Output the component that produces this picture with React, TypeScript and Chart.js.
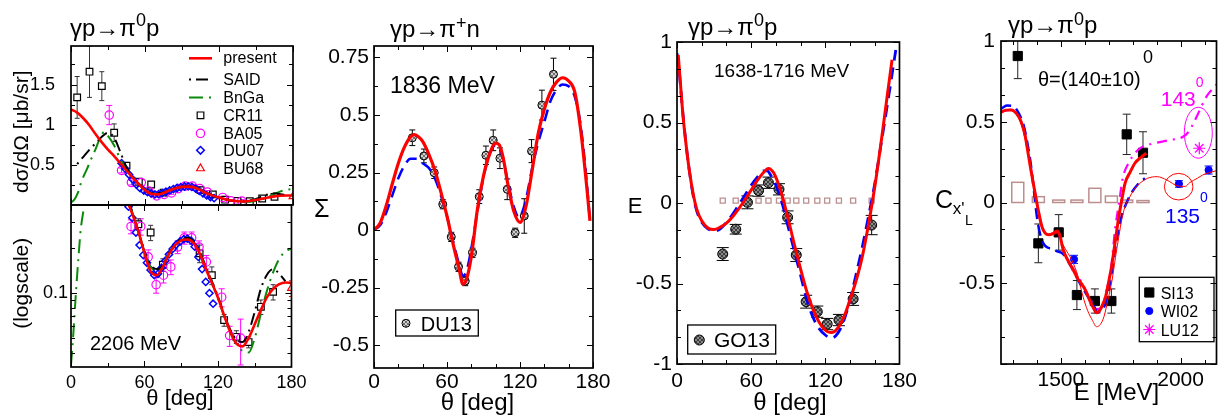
import React, { useEffect, useRef } from 'react';
import { Chart, registerables } from 'chart.js';

Chart.register(...registerables);

const FONT = "'Liberation Sans', Arial, Helvetica, sans-serif";
Chart.defaults.font.family = FONT;
Chart.defaults.color = '#000';
const H = 418;

const RED = '#ff0000';
const BLUE = '#0000ff';
const GREEN = '#0a8a0a';
const MAGENTA = '#ff00ff';
const BROWN = '#bc8f8f';

// ================= Panel 1: dσ/dΩ, γp→π0p at 2206 MeV =================
const dcsTheta = [0, 5, 10, 15, 20, 25, 30, 35, 40, 45, 50, 55, 60, 65, 70, 75, 80, 85, 90, 95, 100, 105, 110, 115, 120, 125, 130, 135, 140, 145, 150, 155, 160, 165, 170, 175, 180];
const dcsPresent = [1.19, 1.15, 1.08, 0.99, 0.88, 0.78, 0.69, 0.61, 0.52, 0.43, 0.34, 0.26, 0.185, 0.14, 0.132, 0.15, 0.183, 0.21, 0.226, 0.229, 0.217, 0.185, 0.146, 0.117, 0.093, 0.071, 0.055, 0.046, 0.044, 0.05, 0.062, 0.077, 0.094, 0.107, 0.115, 0.118, 0.117];
const dcsSAID = [null, 0.51, 0.6, 0.69, 0.77, 0.85, 0.9, 0.84, 0.66, 0.47, 0.35, 0.26, 0.19, 0.155, 0.145, 0.155, 0.185, 0.213, 0.23, 0.235, 0.222, 0.19, 0.15, 0.12, 0.095, 0.072, 0.057, 0.049, 0.047, 0.055, 0.075, 0.107, 0.133, 0.145, 0.135, 0.12, null];
const bngaTheta = [0, 2, 4, 6, 8, 10, 13, 16, 20, 24, 27, 30, 35, 40, 45, 50, 55, 60, 65, 70, 75, 80, 85, 90, 95, 100, 105, 110, 115, 120, 125, 130, 135, 140, 145, 150, 155, 160, 165, 170, 175, 180];
const bngaVals = [0.033, 0.055, 0.1, 0.17, 0.27, 0.35, 0.45, 0.56, 0.7, 0.85, 0.91, 0.86, 0.74, 0.57, 0.46, 0.35, 0.26, 0.19, 0.15, 0.142, 0.155, 0.185, 0.212, 0.227, 0.23, 0.218, 0.19, 0.15, 0.118, 0.092, 0.07, 0.055, 0.046, 0.041, 0.04, 0.05, 0.073, 0.104, 0.138, 0.17, 0.19, 0.2];
const cr11Theta = [5, 15, 25, 35, 45, 55, 65, 75, 105, 115, 125, 135, 145, 155, 165];
const cr11Vals = [1.34, 1.66, 1.48, 0.9, 0.49, 0.29, 0.255, 0.155, 0.185, 0.132, 0.066, 0.051, 0.047, 0.081, 0.102];
const cr11Err = [0.26, 0.32, 0.18, 0.11, 0.04, 0.025, 0.03, 0.015, 0.025, 0.018, 0.006, 0.005, 0.004, 0.009, 0.012];
const ba05Theta = [31, 41, 49, 57, 63, 69.5, 75.5, 81.5, 87, 92.5, 98.5, 104.5, 110.5, 123, 129.5, 138.5];
const ba05Vals = [1.12, 0.43, 0.28, 0.28, 0.175, 0.114, 0.132, 0.15, 0.204, 0.235, 0.235, 0.204, 0.162, 0.094, 0.052, 0.05];
const ba05Err = [0.12, 0.03, 0.03, 0.035, 0.02, 0.014, 0.015, 0.017, 0.02, 0.022, 0.022, 0.02, 0.017, 0.013, 0.008, 0.017];
const du07Theta = [41, 44, 47, 50, 53, 56, 59, 62, 65, 68, 71, 74, 77, 80, 83, 86, 89, 92, 95, 98, 101, 104, 107, 110, 113, 116];
const du07Vals = [0.52, 0.45, 0.38, 0.32, 0.255, 0.21, 0.18, 0.16, 0.143, 0.132, 0.135, 0.148, 0.165, 0.182, 0.198, 0.212, 0.222, 0.23, 0.232, 0.225, 0.205, 0.175, 0.145, 0.119, 0.1, 0.085];
const bu68Theta = [180];
const bu68Vals = [0.108];
const bu68Err = [0.013];
const thetaTicks = [0, 60, 120, 180];
const thetaTickLabels = ['0', '60', '120', '180'];
const dcsTicks = [0.5, 1, 1.5];
const dcsTickLabels = ['0.5', '1', '1.5'];
const logTicks = [0.1];
const logTickLabels = ['0.1'];

// ================= Panel 2: Σ, γp→π+n at 1836 MeV =================
const sigRedTheta = [0, 5, 10, 15, 20, 25, 30, 33, 36, 40, 45, 50, 55, 60, 65, 70, 73, 76, 80, 85, 90, 95, 100, 103, 106, 110, 115, 120, 125, 130, 135, 140, 145, 150, 155, 160, 165, 170, 175, 177.5];
const sigRed = [0, 0.03, 0.105, 0.2, 0.29, 0.36, 0.405, 0.415, 0.408, 0.385, 0.33, 0.26, 0.165, 0.06, -0.06, -0.17, -0.235, -0.215, -0.115, 0.09, 0.235, 0.33, 0.378, 0.37, 0.318, 0.2, 0.08, 0.033, 0.105, 0.26, 0.42, 0.525, 0.6, 0.643, 0.662, 0.648, 0.6, 0.43, 0.18, 0.04];
const sigBlueTheta = [0, 5, 10, 15, 20, 25, 30, 35, 40, 45, 50, 55, 60, 65, 70, 73, 76, 80, 85, 90, 95, 100, 105, 110, 115, 119, 122, 126, 130, 135, 140, 145, 150, 155, 160, 165, 170, 175, 177];
const sigBlue = [0, 0.02, 0.075, 0.15, 0.225, 0.28, 0.31, 0.31, 0.29, 0.27, 0.225, 0.15, 0.06, -0.05, -0.15, -0.2, -0.18, -0.08, 0.08, 0.23, 0.33, 0.37, 0.33, 0.21, 0.1, 0.055, 0.08, 0.16, 0.27, 0.38, 0.47, 0.56, 0.61, 0.633, 0.625, 0.58, 0.45, 0.2, 0.07];
const du13Theta = [31.5, 41, 49.5, 56.5, 63.5, 69.5, 75, 81, 86.5, 92, 98, 103.5, 109.5, 116, 123.5, 129.5, 138, 147.5];
const du13Vals = [0.401, 0.322, 0.249, 0.112, -0.03, -0.16, -0.222, -0.099, 0.145, 0.325, 0.39, 0.312, 0.177, -0.012, 0.061, 0.343, 0.543, 0.677];
const du13Err = [0.034, 0.03, 0.025, 0.02, 0.02, 0.02, 0.02, 0.02, 0.03, 0.04, 0.045, 0.045, 0.045, 0.02, 0.075, 0.05, 0.065, 0.07];
const sigTicks = [-0.5, -0.25, 0, 0.25, 0.5, 0.75];
const sigTickLabels = ['-0.5', '-0.25', '0', '0.25', '0.5', '0.75'];

// ================= Panel 3: E, γp→π0p at 1638-1716 MeV =================
const eRedTheta = [1, 3, 5, 8, 10, 13, 16, 20, 25, 30, 35, 40, 45, 50, 55, 60, 65, 70, 74, 78, 82, 86, 90, 95, 100, 105, 110, 115, 120, 124, 128, 132, 136, 140, 145, 150, 155, 160, 165, 170, 174];
const eRed = [0.92, 0.72, 0.53, 0.32, 0.2, 0.06, -0.04, -0.11, -0.155, -0.165, -0.15, -0.125, -0.085, -0.035, 0.02, 0.08, 0.14, 0.19, 0.215, 0.19, 0.12, 0.02, -0.1, -0.26, -0.41, -0.55, -0.66, -0.74, -0.79, -0.805, -0.795, -0.755, -0.69, -0.6, -0.48, -0.33, -0.13, 0.1, 0.37, 0.66, 0.89];
const eBlueTheta = [0, 2, 4, 6, 8, 10, 13, 16, 20, 25, 30, 35, 40, 45, 50, 55, 60, 65, 70, 73, 76, 80, 85, 90, 95, 100, 105, 110, 115, 120, 125, 130, 135, 140, 145, 150, 155, 160, 165, 170, 174, 177];
const eBlue = [0.93, 0.8, 0.62, 0.46, 0.32, 0.2, 0.05, -0.05, -0.12, -0.16, -0.175, -0.16, -0.12, -0.07, -0.01, 0.05, 0.11, 0.16, 0.2, 0.2, 0.17, 0.11, 0.0, -0.15, -0.3, -0.45, -0.6, -0.71, -0.78, -0.82, -0.84, -0.81, -0.73, -0.6, -0.44, -0.27, -0.08, 0.12, 0.36, 0.6, 0.8, 0.95];
const go13Theta = [37, 47.5, 57, 66, 74, 82.5, 89.5, 96.5, 104.5, 113.5, 121.5, 131, 142.5, 157.5];
const go13Vals = [-0.317, -0.163, 0.004, 0.077, 0.126, 0.085, -0.089, -0.323, -0.613, -0.675, -0.752, -0.727, -0.596, -0.137];
const go13Err = [0.04, 0.03, 0.04, 0.035, 0.035, 0.035, 0.04, 0.04, 0.04, 0.035, 0.035, 0.035, 0.04, 0.06];
const go13Sys = [0.015, 0.015, 0.015, 0.015, 0.015, 0.015, 0.015, 0.015, 0.015, 0.015, 0.015, 0.015, 0.015, 0.015];
const eTicks = [-1, -0.5, 0, 0.5, 1];
const eTickLabels = ['-1', '-0.5', '0', '0.5', '1'];

// ================= Panel 4: Cx'L vs E, θ=(140±10)° =================
const cxRedE = [1250, 1270, 1293, 1315, 1334, 1350, 1361, 1375, 1395, 1410, 1421, 1435, 1449, 1465, 1484, 1495, 1510, 1530, 1552, 1570, 1585, 1605, 1620, 1635, 1649, 1662, 1675, 1687, 1700, 1714, 1728, 1742, 1755, 1768, 1790, 1809, 1835, 1857];
const cxRed = [0.56, 0.572, 0.573, 0.55, 0.5, 0.42, 0.325, 0.2, 0.036, -0.08, -0.15, -0.19, -0.2, -0.195, -0.176, -0.2, -0.294, -0.36, -0.418, -0.47, -0.5, -0.55, -0.604, -0.65, -0.682, -0.67, -0.63, -0.583, -0.49, -0.377, -0.23, -0.088, 0.02, 0.119, 0.19, 0.243, 0.28, 0.305];
const cxBlueE = [1250, 1275, 1300, 1325, 1346, 1360, 1374, 1387, 1400, 1414, 1427, 1445, 1460, 1480, 1510, 1540, 1565, 1595, 1620, 1640, 1654, 1668, 1685, 1700, 1713, 1726, 1740, 1753, 1775, 1794, 1820, 1851];
const cxBlue = [0.58, 0.6, 0.598, 0.55, 0.47, 0.37, 0.243, 0.08, -0.088, -0.2, -0.253, -0.28, -0.284, -0.3, -0.32, -0.39, -0.46, -0.54, -0.6, -0.65, -0.68, -0.675, -0.63, -0.54, -0.43, -0.294, -0.18, -0.088, 0.0, 0.057, 0.11, 0.15];
const cx143E = [1250, 1293, 1334, 1361, 1395, 1421, 1449, 1484, 1510, 1552, 1585, 1620, 1649, 1670, 1690, 1710, 1726, 1743, 1760, 1785, 1809, 1835, 1862, 1900, 1956, 2010, 2035, 2050, 2070, 2090, 2110, 2123, 2150];
const cx143 = [0.56, 0.575, 0.5, 0.33, 0.04, -0.15, -0.2, -0.18, -0.29, -0.41, -0.49, -0.59, -0.66, -0.65, -0.55, -0.4, -0.17, 0.0, 0.16, 0.25, 0.305, 0.34, 0.356, 0.37, 0.387, 0.407, 0.44, 0.48, 0.54, 0.604, 0.66, 0.686, 0.73];
const cx135E = [1250, 1293, 1334, 1361, 1395, 1421, 1449, 1484, 1512, 1550, 1570, 1592, 1612, 1632, 1649, 1665, 1680, 1697, 1714, 1728, 1742, 1755, 1768, 1790, 1809, 1835, 1862, 1902, 1943, 1990, 2020, 2038, 2070, 2092, 2120, 2150];
const cx135 = [0.56, 0.575, 0.49, 0.32, 0.02, -0.16, -0.2, -0.19, -0.27, -0.37, -0.45, -0.58, -0.67, -0.73, -0.769, -0.755, -0.707, -0.6, -0.48, -0.34, -0.212, -0.1, -0.026, 0.04, 0.088, 0.125, 0.15, 0.16, 0.139, 0.102, 0.1, 0.123, 0.15, 0.17, 0.185, 0.197];
const si13E = [1320, 1406, 1491, 1567, 1642, 1711, 1775, 1843];
const si13Vals = [0.907, -0.253, -0.185, -0.573, -0.61, -0.61, 0.422, 0.308];
const si13Err = [0.14, 0.12, 0.11, 0.09, 0.075, 0.075, 0.125, 0.13];
const si13Sys = [0.125, 0.036, 0.015, 0.015, 0.088, 0.04, 0.015, 0.012];
const wi02E = [1555, 1993, 2117];
const wi02Vals = [-0.352, 0.115, 0.201];
const wi02Err = [0.025, 0.02, 0.025];
const lu12E = [2078];
const lu12Vals = [0.336];
const cxTicks = [-0.5, 0, 0.5, 1];
const cxTickLabels = ['-0.5', '0', '0.5', '1'];
const energyTicks = [1500, 2000];
const energyTickLabels = ['1500', '2000'];

// ================= helpers =================
const pts = (xs: number[], ys: (number | null)[]) =>
  xs.map((x, i) => ({ x, y: ys[i] })).filter((p) => p.y !== null) as { x: number; y: number }[];

const curve = (data: any[], color: string, width: number, dash: number[] = []) => ({
  data,
  showLine: true,
  borderColor: color,
  backgroundColor: color,
  borderWidth: width,
  borderDash: dash,
  pointRadius: 0,
  pointHoverRadius: 0,
  fill: false,
  cubicInterpolationMode: 'monotone',
});

const marks = (data: any[], style: string, r: number, stroke: string, fill: any, lw: number, errs?: number[], errColor?: string, capW = 6) => ({
  data,
  showLine: false,
  pointStyle: style,
  pointRadius: r,
  pointHoverRadius: r,
  pointBorderColor: stroke,
  pointBackgroundColor: fill,
  pointBorderWidth: lw,
  borderColor: stroke,
  backgroundColor: fill,
  errs,
  errColor: errColor ?? stroke,
  capW,
});

// systematic-error boxes: outlined bars from 0 to value, placed through the chart's scales
const sysBars = (data: any[], color: string, widthPx: number) => ({
  data,
  showLine: false,
  pointRadius: 0,
  pointHoverRadius: 0,
  borderColor: color,
  backgroundColor: 'rgba(0,0,0,0)',
  sysBar: true,
  sysColor: color,
  sysWidth: widthPx,
});

// cross-hatched fill used by the DU13 / GO13 symbols
function hatch(base: string, line: string): any {
  const c = document.createElement('canvas');
  c.width = 4;
  c.height = 4;
  const g = c.getContext('2d');
  if (!g) return base;
  g.fillStyle = base;
  g.fillRect(0, 0, 4, 4);
  g.fillStyle = line;
  [[0, 0], [1, 1], [2, 2], [3, 3], [3, 0], [2, 1], [1, 2], [0, 3]].forEach(([x, y]) => g.fillRect(x, y, 1, 1));
  return g.createPattern(c, 'repeat') ?? base;
}

function drawMarker(ctx: CanvasRenderingContext2D, style: string, x: number, y: number, r: number, stroke: string, fill: any, lw: number) {
  ctx.save();
  ctx.beginPath();
  ctx.lineWidth = lw;
  ctx.strokeStyle = stroke;
  ctx.fillStyle = fill;
  if (style === 'circle') ctx.arc(x, y, r, 0, Math.PI * 2);
  else if (style === 'rect') {
    const s = r * Math.SQRT1_2;
    ctx.rect(x - s, y - s, 2 * s, 2 * s);
  } else if (style === 'rectRot') {
    ctx.moveTo(x, y - r);
    ctx.lineTo(x + r, y);
    ctx.lineTo(x, y + r);
    ctx.lineTo(x - r, y);
    ctx.closePath();
  } else if (style === 'triangle') {
    const h = r * 1.5;
    ctx.moveTo(x, y - r);
    ctx.lineTo(x + h / Math.sqrt(3), y + r / 2);
    ctx.lineTo(x - h / Math.sqrt(3), y + r / 2);
    ctx.closePath();
  } else if (style === 'star') {
    for (let k = 0; k < 4; k++) {
      const a = (k * Math.PI) / 4;
      ctx.moveTo(x - Math.cos(a) * r, y - Math.sin(a) * r);
      ctx.lineTo(x + Math.cos(a) * r, y + Math.sin(a) * r);
    }
    ctx.stroke();
    ctx.restore();
    return;
  }
  ctx.fill();
  ctx.stroke();
  ctx.restore();
}

type Part = { t: string; size: number; dy?: number; color?: string };

const txt = (x: number, y: number, parts: Part[], extra: any = {}) => ({ k: 'text', x, y, parts, ...extra });

const errPlugin = {
  id: 'errbars',
  beforeDatasetsDraw(chart: any) {
    const { ctx, chartArea: a } = chart;
    const xs = chart.scales.x;
    const ys = chart.scales.y;
    ctx.save();
    ctx.beginPath();
    ctx.rect(a.left, a.top, a.right - a.left, a.bottom - a.top);
    ctx.clip();
    chart.data.datasets.forEach((ds: any, i: number) => {
      if (ds.sysBar) {
        ctx.strokeStyle = ds.sysColor;
        ctx.lineWidth = 1.5;
        const y0 = ys.getPixelForValue(0);
        ds.data.forEach((p: any) => {
          const cx = xs.getPixelForValue(p.x);
          const y1 = ys.getPixelForValue(p.y);
          ctx.strokeRect(cx - ds.sysWidth / 2, Math.min(y0, y1), ds.sysWidth, Math.max(Math.abs(y0 - y1), 2));
        });
        return;
      }
      if (!ds.errs) return;
      const meta = chart.getDatasetMeta(i);
      ctx.strokeStyle = ds.errColor;
      ctx.lineWidth = 1;
      meta.data.forEach((el: any, j: number) => {
        const e = ds.errs[j];
        if (!e) return;
        const v = ds.data[j].y;
        const y1 = ys.getPixelForValue(v + e);
        const y2 = ys.getPixelForValue(v - e);
        const c = ds.capW / 2;
        ctx.beginPath();
        ctx.moveTo(el.x, y1);
        ctx.lineTo(el.x, y2);
        ctx.moveTo(el.x - c, y1);
        ctx.lineTo(el.x + c, y1);
        ctx.moveTo(el.x - c, y2);
        ctx.lineTo(el.x + c, y2);
        ctx.stroke();
      });
    });
    ctx.restore();
  },
};

function framePlugin(spec: any) {
  return {
    id: 'frame',
    afterDatasetsDraw(chart: any) {
      const { ctx, chartArea: a } = chart;
      const xs = chart.scales.x;
      const ys = chart.scales.y;
      ctx.save();
      ctx.strokeStyle = '#000';
      ctx.lineWidth = 1;
      ctx.beginPath();
      const tx = (vals: number[], len: number) =>
        vals.forEach((v) => {
          const p = Math.round(xs.getPixelForValue(v)) + 0.5;
          ctx.moveTo(p, a.bottom);
          ctx.lineTo(p, a.bottom - len);
          ctx.moveTo(p, a.top);
          ctx.lineTo(p, a.top + len);
        });
      const ty = (vals: number[], len: number) =>
        vals.forEach((v) => {
          const p = Math.round(ys.getPixelForValue(v)) + 0.5;
          ctx.moveTo(a.left, p);
          ctx.lineTo(a.left + len, p);
          ctx.moveTo(a.right, p);
          ctx.lineTo(a.right - len, p);
        });
      tx(spec.x.major, 6);
      tx(spec.x.minor, 4);
      ty(spec.y.major, 6);
      ty(spec.y.minor, 4);
      ctx.stroke();
      ctx.lineWidth = 1.7;
      ctx.strokeRect(a.left, a.top, a.right - a.left, a.bottom - a.top);
      ctx.restore();
    },
  };
}

function decoPlugin(spec: any) {
  return {
    id: 'deco',
    afterDraw(chart: any) {
      const ctx: CanvasRenderingContext2D = chart.ctx;
      const ox = spec.left;
      spec.items.forEach((it: any) => {
        ctx.save();
        if (it.k === 'text') {
          const widths = it.parts.map((p: Part) => {
            ctx.font = `${p.size}px ${FONT}`;
            return ctx.measureText(p.t).width;
          });
          const total = widths.reduce((s: number, w: number) => s + w, 0);
          ctx.translate(it.x - ox, it.y);
          if (it.rot) ctx.rotate(it.rot);
          let x = it.align === 'center' ? -total / 2 : 0;
          ctx.textBaseline = 'alphabetic';
          ctx.textAlign = 'left';
          it.parts.forEach((p: Part, i: number) => {
            ctx.font = `${p.size}px ${FONT}`;
            ctx.fillStyle = p.color ?? it.color ?? '#000';
            ctx.fillText(p.t, x, -(p.dy ?? 0));
            x += widths[i];
          });
        } else if (it.k === 'line') {
          ctx.strokeStyle = it.color;
          ctx.lineWidth = it.w;
          ctx.setLineDash(it.dash ?? []);
          ctx.beginPath();
          ctx.moveTo(it.x1 - ox, it.y);
          ctx.lineTo(it.x2 - ox, it.y);
          ctx.stroke();
        } else if (it.k === 'pt') {
          const fill = it.fill === 'du13' ? hatch('#d2d2d2', '#6e6e6e') : it.fill === 'go13' ? hatch('#8a8a8a', '#3c3c3c') : it.fill;
          drawMarker(ctx, it.style, it.x - ox, it.y, it.r, it.stroke, fill, it.lw);
        } else if (it.k === 'box') {
          ctx.strokeStyle = '#000';
          ctx.lineWidth = 1.3;
          ctx.strokeRect(it.x - ox, it.y, it.w, it.h);
        } else if (it.k === 'ell') {
          const cx = chart.scales.x.getPixelForValue(it.xv);
          const cy = chart.scales.y.getPixelForValue(it.yv);
          ctx.strokeStyle = it.color;
          ctx.lineWidth = it.lw;
          ctx.beginPath();
          ctx.ellipse(cx, cy, it.rx, it.ry, 0, 0, Math.PI * 2);
          ctx.stroke();
        }
        ctx.restore();
      });
    },
  };
}

function scaleCfg(ax: any, isX: boolean, spec: any) {
  const c: any = {
    type: ax.type ?? 'linear',
    min: ax.min,
    max: ax.max,
    offset: false,
    afterBuildTicks: (s: any) => {
      s.ticks = ax.ticks.map((v: number) => ({ value: v }));
    },
    ticks: {
      display: ax.labels !== false,
      font: { family: FONT, size: ax.size },
      color: '#000',
      padding: ax.pad,
      maxRotation: 0,
      minRotation: 0,
      autoSkip: false,
      callback: (_v: any, i: number) => ax.tickLabels[i],
    },
    grid: { display: false, drawTicks: false },
    border: { display: false },
  };
  if (isX) c.afterFit = (s: any) => { s.height = H - spec.plot.b; };
  else c.afterFit = (s: any) => { s.width = spec.plot.l - spec.left; };
  return c;
}

function buildConfig(spec: any): any {
  return {
    type: 'scatter',
    data: { datasets: spec.datasets() },
    options: {
      animation: false,
      responsive: false,
      devicePixelRatio: 1,
      events: [],
      layout: { padding: { left: 0, top: spec.plot.t, right: spec.left + spec.width - spec.plot.r, bottom: 0 } },
      plugins: { legend: { display: false }, tooltip: { enabled: false } },
      scales: { x: scaleCfg(spec.x, true, spec), y: scaleCfg(spec.y, false, spec) },
    },
    plugins: [errPlugin, framePlugin(spec), decoPlugin(spec)],
  };
}

// ================= datasets =================
const p1Datasets = () => [
  curve(pts(dcsTheta, dcsPresent), RED, 2.6),
  curve(pts(dcsTheta, dcsSAID), '#000', 2, [2, 5, 12, 5]),
  curve(pts(bngaTheta, bngaVals), GREEN, 2, [14, 6, 2, 6]),
  marks(pts(du07Theta, du07Vals), 'rectRot', 3.6, BLUE, 'rgba(0,0,0,0)', 1.5),
  marks(pts(ba05Theta, ba05Vals), 'circle', 4.2, MAGENTA, 'rgba(255,255,255,0)', 1.2, ba05Err, MAGENTA, 6),
  marks(pts(cr11Theta, cr11Vals), 'rect', 4.7, '#000', '#fff', 1.2, cr11Err, '#333', 5),
  marks(pts(bu68Theta, bu68Vals), 'triangle', 4.5, RED, '#fff', 1.2, bu68Err, RED, 5),
];

const p2Datasets = () => [
  curve(pts(sigRedTheta, sigRed), RED, 3.2),
  curve(pts(sigBlueTheta, sigBlue), BLUE, 2.5, [12, 7]),
  marks(pts(du13Theta, du13Vals), 'circle', 4, '#000', hatch('#d2d2d2', '#6e6e6e'), 1, du13Err, '#000', 6),
];

const p3Datasets = () => [
  curve(pts(eRedTheta, eRed), RED, 3),
  curve(pts(eBlueTheta, eBlue), BLUE, 2.8, [12, 7]),
  marks(pts(go13Theta, go13Vals), 'circle', 5, '#000', hatch('#8a8a8a', '#3c3c3c'), 1, go13Err, '#000', 12),
  marks(pts(go13Theta, go13Sys), 'rect', 3.6, BROWN, 'rgba(0,0,0,0)', 1.3),
];

const p4Datasets = () => [
  curve(pts(cxRedE, cxRed), RED, 3),
  curve(pts(cx135E, cx135), RED, 1),
  curve(pts(cxBlueE, cxBlue), BLUE, 2.5, [11, 6]),
  curve(pts(cx143E, cx143), MAGENTA, 2.2, [10, 6, 2, 6]),
  marks(pts(si13E, si13Vals), 'rect', 6.5, '#000', '#000', 1, si13Err, '#222', 8),
  marks(pts(wi02E, wi02Vals), 'circle', 3.6, BLUE, BLUE, 1, wi02Err, BLUE, 8),
  marks(pts(lu12E, lu12Vals), 'star', 6, MAGENTA, MAGENTA, 1.2),
  sysBars(pts(si13E, si13Sys), BROWN, 12),
];

const thetaMinor13 = [30, 90, 150];
const thetaMinor20 = [20, 40, 80, 100, 140, 160];
const sixthMinor = [-0.8333, -0.6667, -0.3333, -0.1667, 0.1667, 0.3333, 0.6667, 0.8333];

const title = (x: number, y: number, sup: string, tail: string, supDy: number) =>
  txt(x, y, [{ t: 'γp→π', size: 24 }, { t: sup, size: 18, dy: supDy }, { t: tail, size: 24 }]);

const specs: any[] = [
  {
    left: 0, width: 312, plot: { l: 71, r: 293, t: 46, b: 205 },
    x: { min: 0, max: 180, ticks: thetaTicks, tickLabels: thetaTickLabels, labels: false, size: 18, pad: 5, major: thetaTicks, minor: thetaMinor13 },
    y: { min: 0, max: 1.98, ticks: dcsTicks, tickLabels: dcsTickLabels, size: 18, pad: 16, major: dcsTicks, minor: [0.25, 0.75, 1.25, 1.75] },
    datasets: p1Datasets,
    items: [
      title(70, 36.3, '0', 'p', 10),
      txt(28, 131.7, [{ t: 'dσ/dΩ [μb/sr]', size: 21 }], { rot: -Math.PI / 2, align: 'center' }),
      { k: 'line', x1: 189, x2: 212, y: 58.3, color: RED, w: 2.6 },
      { k: 'line', x1: 189, x2: 212, y: 79.5, color: '#000', w: 2, dash: [2, 5, 12, 5] },
      { k: 'line', x1: 189, x2: 212, y: 97.5, color: GREEN, w: 2, dash: [14, 6, 2, 6] },
      { k: 'pt', x: 200.5, y: 115.3, style: 'rect', r: 4.7, stroke: '#000', fill: '#fff', lw: 1.2 },
      { k: 'pt', x: 200.5, y: 133.3, style: 'circle', r: 4.2, stroke: MAGENTA, fill: '#fff', lw: 1.2 },
      { k: 'pt', x: 200.5, y: 150.3, style: 'rectRot', r: 3.8, stroke: BLUE, fill: '#fff', lw: 1.5 },
      { k: 'pt', x: 200.5, y: 168.5, style: 'triangle', r: 4.5, stroke: RED, fill: '#fff', lw: 1.2 },
      txt(223.3, 62.5, [{ t: 'present', size: 16 }]),
      txt(223.3, 85, [{ t: 'SAID', size: 16 }]),
      txt(223.3, 103, [{ t: 'BnGa', size: 16 }]),
      txt(223.3, 120.8, [{ t: 'CR11', size: 16 }]),
      txt(223.3, 139, [{ t: 'BA05', size: 16 }]),
      txt(223.3, 155.8, [{ t: 'DU07', size: 16 }]),
      txt(223.3, 174, [{ t: 'BU68', size: 16 }]),
    ],
  },
  {
    left: 0, width: 312, plot: { l: 71, r: 293, t: 205, b: 367 },
    x: { min: 0, max: 180, ticks: thetaTicks, tickLabels: thetaTickLabels, size: 18, pad: 5.5, major: thetaTicks, minor: thetaMinor13 },
    y: { type: 'logarithmic', min: 0.032, max: 0.39, ticks: logTicks, tickLabels: logTickLabels, size: 18, pad: 3, major: logTicks, minor: [0.04, 0.05, 0.06, 0.07, 0.08, 0.09, 0.2, 0.3] },
    datasets: p1Datasets,
    items: [
      txt(28, 283.3, [{ t: '(logscale)', size: 21 }], { rot: -Math.PI / 2, align: 'center' }),
      txt(90, 350, [{ t: '2206 MeV', size: 20 }]),
      txt(180, 405, [{ t: 'θ [deg]', size: 22 }], { align: 'center' }),
    ],
  },
  {
    left: 300, width: 318, plot: { l: 374, r: 593, t: 46, b: 368 },
    x: { min: 0, max: 180, ticks: thetaTicks, tickLabels: thetaTickLabels, size: 21, pad: 1.5, major: thetaTicks, minor: thetaMinor20 },
    y: { min: -0.6, max: 0.8, ticks: sigTicks, tickLabels: sigTickLabels, size: 21, pad: 5, major: sigTicks, minor: [-0.375, -0.125, 0.125, 0.375, 0.625] },
    datasets: p2Datasets,
    items: [
      title(390, 36.7, '+', 'n', 8),
      txt(390, 93.3, [{ t: '1836 MeV', size: 23 }]),
      txt(321.7, 216.7, [{ t: 'Σ', size: 25 }], { align: 'center' }),
      txt(477.5, 410, [{ t: 'θ [deg]', size: 24 }], { align: 'center' }),
      { k: 'box', x: 395.7, y: 310, w: 82.6, h: 26 },
      { k: 'pt', x: 406, y: 323.3, style: 'circle', r: 4, stroke: '#000', fill: 'du13', lw: 1 },
      txt(420.7, 330.5, [{ t: 'DU13', size: 20 }]),
    ],
  },
  {
    left: 610, width: 312, plot: { l: 677, r: 900, t: 42, b: 364 },
    x: { min: 0, max: 180, ticks: thetaTicks, tickLabels: thetaTickLabels, size: 21, pad: 5, major: thetaTicks, minor: thetaMinor20 },
    y: { min: -1, max: 1, ticks: eTicks, tickLabels: eTickLabels, size: 21, pad: 5, major: eTicks, minor: sixthMinor },
    datasets: p3Datasets,
    items: [
      title(688, 35, '0', 'p', 9),
      txt(714, 76.7, [{ t: '1638-1716 MeV', size: 19 }]),
      txt(635, 213.3, [{ t: 'E', size: 22 }], { align: 'center' }),
      txt(790, 410, [{ t: 'θ [deg]', size: 24 }], { align: 'center' }),
      { k: 'box', x: 687.7, y: 325, w: 88, h: 29 },
      { k: 'pt', x: 699.3, y: 340, style: 'circle', r: 5, stroke: '#000', fill: 'go13', lw: 1 },
      txt(714, 347, [{ t: 'GO13', size: 21 }]),
    ],
  },
  {
    left: 915, width: 309, plot: { l: 1001, r: 1222, t: 41, b: 364 },
    x: { min: 1250, max: 2150, ticks: energyTicks, tickLabels: energyTickLabels, size: 21, pad: 3.5, major: energyTicks, minor: [1300, 1400, 1600, 1700, 1800, 1900, 2100] },
    y: { min: -1, max: 1, ticks: cxTicks, tickLabels: cxTickLabels, size: 21, pad: 6, major: [-1, -0.5, 0, 0.5, 1], minor: sixthMinor },
    datasets: p4Datasets,
    items: [
      title(1008, 33, '0', 'p', 8),
      txt(935, 208.3, [{ t: 'C', size: 25 }]),
      txt(952.7, 213.5, [{ t: "x'", size: 17 }]),
      txt(965, 225, [{ t: 'L', size: 14 }]),
      txt(1038, 86, [{ t: 'θ=(140±10)', size: 20 }]),
      txt(1143, 63, [{ t: '0', size: 18 }]),
      txt(1160.7, 106, [{ t: '143', size: 21 }, { t: '0', size: 14, dy: 19 }], { color: MAGENTA }),
      txt(1165, 222.7, [{ t: '135', size: 21 }, { t: '0', size: 14, dy: 21 }], { color: BLUE }),
      txt(1116.5, 400, [{ t: 'E [MeV]', size: 24 }], { align: 'center' }),
      { k: 'ell', xv: 1992, yv: 0.098, rx: 14.3, ry: 13.3, color: RED, lw: 1 },
      { k: 'ell', xv: 2074, yv: 0.432, rx: 14, ry: 25.5, color: MAGENTA, lw: 1 },
      { k: 'box', x: 1139.3, y: 277.3, w: 74.7, h: 64.4 },
      { k: 'pt', x: 1149.3, y: 292.5, style: 'rect', r: 6.5, stroke: '#000', fill: '#000', lw: 1 },
      { k: 'pt', x: 1149.3, y: 311, style: 'circle', r: 3.6, stroke: BLUE, fill: BLUE, lw: 1 },
      { k: 'pt', x: 1149.3, y: 329.5, style: 'star', r: 6, stroke: MAGENTA, fill: MAGENTA, lw: 1.2 },
      txt(1160.7, 298.5, [{ t: 'SI13', size: 16 }]),
      txt(1160.7, 317, [{ t: 'WI02', size: 16 }]),
      txt(1160.7, 335.5, [{ t: 'LU12', size: 16 }]),
    ],
  },
];

function Panel({ spec }: { spec: any }) {
  const ref = useRef<HTMLCanvasElement>(null);
  useEffect(() => {
    const chart = new Chart(ref.current as HTMLCanvasElement, buildConfig(spec));
    return () => chart.destroy();
  }, [spec]);
  return (
    <canvas
      ref={ref}
      width={spec.width}
      height={H}
      style={{ position: 'absolute', left: spec.left, top: 0, width: spec.width, height: H }}
    />
  );
}

export default function App() {
  return (
    <div style={{ position: 'absolute', left: 0, top: 0, width: 1224, height: H, background: '#fff', overflow: 'hidden' }}>
      {specs.map((s, i) => (
        <Panel key={i} spec={s} />
      ))}
    </div>
  );
}
